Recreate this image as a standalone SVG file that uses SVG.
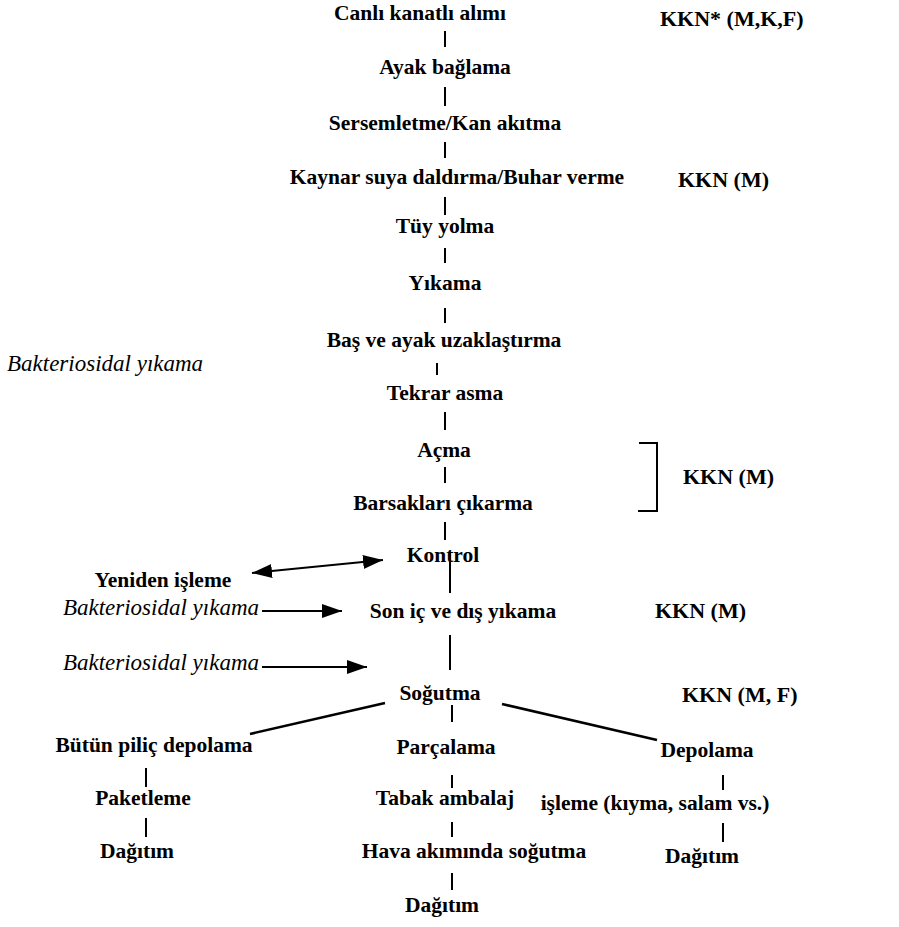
<svg xmlns="http://www.w3.org/2000/svg" width="899" height="927" viewBox="0 0 899 927">
<defs>
<style>
.t{font-family:"Liberation Serif","Times New Roman",serif;font-size:21.5px;font-weight:bold;fill:#000;text-anchor:middle}
.k{font-family:"Liberation Serif","Times New Roman",serif;font-size:22px;font-weight:bold;fill:#000;text-anchor:start}
.i{font-family:"Liberation Serif","Times New Roman",serif;font-size:23px;font-style:italic;fill:#000}
.c{stroke:#000;stroke-width:2;fill:none}
.d{stroke:#000;stroke-width:2.5;fill:none}
</style>
<marker id="ah" markerUnits="userSpaceOnUse" markerWidth="20" markerHeight="14" refX="20" refY="7" orient="auto-start-reverse">
<path d="M0,0 L20,7 L0,14 z" fill="#000"/>
</marker>
</defs>
<rect width="899" height="927" fill="#fff"/>

<g id="connectors">
<line class="c" x1="445" y1="31" x2="445" y2="47"/>
<line class="c" x1="445" y1="87" x2="445" y2="106"/>
<line class="c" x1="445" y1="142" x2="445" y2="158"/>
<line class="c" x1="445" y1="197" x2="445" y2="215"/>
<line class="c" x1="445" y1="248" x2="445" y2="263"/>
<line class="c" x1="445" y1="308" x2="445" y2="323"/>
<line class="c" x1="437" y1="363" x2="437" y2="375"/>
<line class="c" x1="445" y1="412" x2="445" y2="430"/>
<line class="c" x1="445" y1="467" x2="445" y2="483"/>
<line class="c" x1="445" y1="522" x2="445" y2="540"/>
<line class="c" x1="450" y1="553" x2="450" y2="593"/>
<line class="c" x1="450" y1="635" x2="450" y2="670"/>
<line class="c" x1="452" y1="705" x2="452" y2="722"/>
<polyline class="c" points="639,443 657,443 657,511 638,511"/>
<line class="c" x1="252" y1="573" x2="383" y2="560" marker-start="url(#ah)" marker-end="url(#ah)"/>
<line class="c" x1="262" y1="611" x2="342" y2="611" marker-end="url(#ah)"/>
<line class="c" x1="262" y1="667" x2="367" y2="667" marker-end="url(#ah)"/>
<line class="d" x1="385" y1="703" x2="250" y2="734"/>
<line class="d" x1="502" y1="704" x2="657" y2="740"/>
<line class="c" x1="146" y1="768" x2="146" y2="787"/>
<line class="c" x1="146" y1="818" x2="146" y2="837"/>
<line class="c" x1="452" y1="775" x2="452" y2="788"/>
<line class="c" x1="452" y1="822" x2="452" y2="837"/>
<line class="c" x1="452" y1="873" x2="452" y2="890"/>
<line class="c" x1="723" y1="775" x2="723" y2="790"/>
<line class="c" x1="723" y1="823" x2="723" y2="842"/>
</g>

<g id="n1"><text class="t" x="420" y="20">Canlı kanatlı alımı</text></g>
<g id="kkn1"><text class="k" x="660" y="26">KKN* (M,K,F)</text></g>
<g id="n2"><text class="t" x="445" y="74">Ayak bağlama</text></g>
<g id="n3"><text class="t" x="445" y="130">Sersemletme/Kan akıtma</text></g>
<g id="n4"><text class="t" x="457" y="184">Kaynar suya daldırma/Buhar verme</text></g>
<g id="kkn2"><text class="k" x="678" y="187">KKN (M)</text></g>
<g id="n5"><text class="t" x="445" y="233">Tüy yolma</text></g>
<g id="n6"><text class="t" x="445" y="290">Yıkama</text></g>
<g id="n7"><text class="t" x="444" y="347">Baş ve ayak uzaklaştırma</text></g>
<g id="b1"><text class="i" x="7" y="371">Bakteriosidal yıkama</text></g>
<g id="n8"><text class="t" x="445" y="400">Tekrar asma</text></g>
<g id="n9"><text class="t" x="444" y="457">Açma</text></g>
<g id="n10"><text class="t" x="443" y="510">Barsakları çıkarma</text></g>
<g id="kkn3"><text class="k" x="683" y="484">KKN (M)</text></g>
<g id="n11"><text class="t" x="443" y="562">Kontrol</text></g>
<g id="n12"><text class="t" x="163" y="587">Yeniden işleme</text></g>
<g id="b2"><text class="i" x="259" y="615" text-anchor="end">Bakteriosidal yıkama</text></g>
<g id="n13"><text class="t" x="463" y="618">Son iç ve dış yıkama</text></g>
<g id="kkn4"><text class="k" x="655" y="618">KKN (M)</text></g>
<g id="b3"><text class="i" x="259" y="670" text-anchor="end">Bakteriosidal yıkama</text></g>
<g id="n14"><text class="t" x="440" y="700">Soğutma</text></g>
<g id="kkn5"><text class="k" x="682" y="702">KKN (M, F)</text></g>
<g id="n15"><text class="t" x="154" y="752">Bütün piliç depolama</text></g>
<g id="n16"><text class="t" x="143" y="805">Paketleme</text></g>
<g id="n17"><text class="t" x="137" y="858">Dağıtım</text></g>
<g id="n18"><text class="t" x="446" y="754">Parçalama</text></g>
<g id="n19"><text class="t" x="445" y="805">Tabak ambalaj</text></g>
<g id="n20"><text class="t" x="474" y="858">Hava akımında soğutma</text></g>
<g id="n21"><text class="t" x="442" y="912">Dağıtım</text></g>
<g id="n22"><text class="t" x="707" y="757">Depolama</text></g>
<g id="n23"><text class="t" x="655" y="810" text-anchor="start">işleme (kıyma, salam vs.)</text></g>
<g id="n24"><text class="t" x="702" y="863">Dağıtım</text></g>
</svg>
